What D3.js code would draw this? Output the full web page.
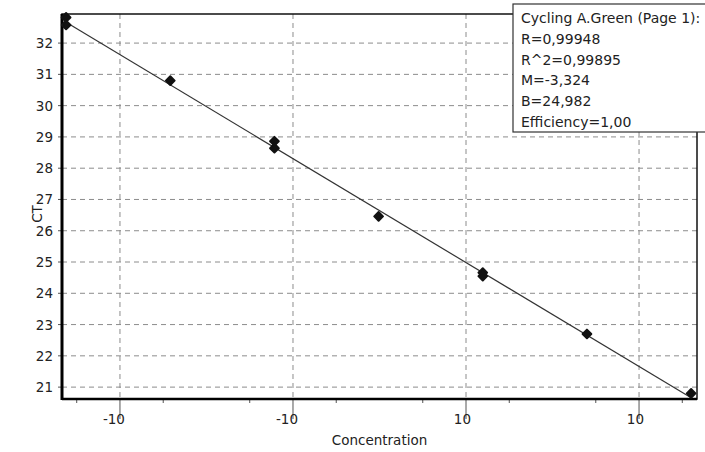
<!DOCTYPE html>
<html>
<head>
<meta charset="utf-8">
<style>
  body { margin: 0; background: #fff; font-family: "DejaVu Sans", sans-serif; }
  .grid line { stroke: #8c8c8c; stroke-dasharray: 5,4; stroke-width: 1; }
  text { fill: #222; font-size: 13.5px; }
  .legend text { font-size: 14px; }
</style>
<script src="https://d3js.org/d3.v7.min.js"></script>
</head>
<body>
<script>
// 4-fold dilution series, each measured in duplicate
const concentrations = [0.0048828, 0.0048828, 0.0195313, 0.078125, 0.078125, 0.3125, 1.25, 1.25, 5, 20];
const ctValues = [32.82, 32.58, 30.8, 28.86, 28.64, 26.46, 24.66, 24.55, 22.7, 20.8];
const yTicks = [21, 22, 23, 24, 25, 26, 27, 28, 29, 30, 31, 32];
const xTicks = [0.01, 0.1, 1, 10];
const xTickLabels = ["-10", "-10", "10", "10"];
const fit = { slope: -3.324, intercept: 24.982 };
const legendLines = ["Cycling A.Green (Page 1):", "R=0,99948", "R^2=0,99895", "M=-3,324", "B=24,982", "Efficiency=1,00"];

const width = 705, height = 452;
const m = { left: 62, right: 697, top: 14, bottom: 399 };

const svg = d3.select('body').append('svg')
    .attr('width', width).attr('height', height);

const x = d3.scaleLog()
    .domain([Math.pow(10, -2.335), Math.pow(10, 1.335)])
    .range([m.left, m.right]);
const y = d3.scaleLinear()
    .domain([20.62, 32.93])
    .range([m.bottom, m.top]);

// grid
const grid = svg.append('g').attr('class', 'grid');
grid.selectAll('line.h').data(yTicks).enter().append('line')
    .attr('x1', m.left).attr('x2', m.right)
    .attr('y1', d => y(d)).attr('y2', d => y(d));
grid.selectAll('line.v').data(xTicks).enter().append('line')
    .attr('y1', m.top).attr('y2', m.bottom)
    .attr('x1', d => x(d)).attr('x2', d => x(d));

// minor x ticks at quarter decades
const minor = [];
xTicks.forEach(t => [-0.25, 0.25].forEach(o => minor.push(t * Math.pow(10, o))));
svg.selectAll('line.minor').data(minor.filter(d => x(d) > m.left && x(d) < m.right)).enter().append('line')
    .attr('x1', d => x(d)).attr('x2', d => x(d))
    .attr('y1', m.bottom).attr('y2', m.bottom + 4)
    .attr('stroke', '#555');

// major x ticks pass through the labels
svg.selectAll('line.major').data(xTicks).enter().append('line')
    .attr('x1', d => x(d)).attr('x2', d => x(d))
    .attr('y1', m.bottom).attr('y2', m.bottom + 20)
    .attr('stroke', '#555');

svg.selectAll('text.xt').data(xTicks).enter().append('text')
    .attr('x', d => x(d) + 5).attr('y', m.bottom + 25)
    .attr('text-anchor', 'end')
    .text((d, i) => xTickLabels[i]);

// y ticks + labels
svg.selectAll('line.yt').data(yTicks).enter().append('line')
    .attr('x1', m.left - 4).attr('x2', m.left)
    .attr('y1', d => y(d)).attr('y2', d => y(d))
    .attr('stroke', '#555');
svg.selectAll('text.yl').data(yTicks).enter().append('text')
    .attr('x', m.left - 9).attr('y', d => y(d) + 5)
    .attr('text-anchor', 'end')
    .text(d => d);

// frame
svg.append('rect')
    .attr('x', m.left).attr('y', m.top).attr('width', m.right - m.left).attr('height', m.bottom - m.top)
    .attr('fill', 'none').attr('stroke', '#111').attr('stroke-width', 1.5);
svg.append('line').attr('x1', m.left).attr('x2', m.left).attr('y1', m.top).attr('y2', m.bottom + 1)
    .attr('stroke', '#000').attr('stroke-width', 3);
svg.append('line').attr('x1', m.left).attr('x2', m.right).attr('y1', m.bottom).attr('y2', m.bottom)
    .attr('stroke', '#000').attr('stroke-width', 2.5);

// regression line over the data range
const cMin = d3.min(concentrations), cMax = d3.max(concentrations);
const line = d3.line()
    .x(d => x(d))
    .y(d => y(fit.intercept + fit.slope * Math.log10(d)));
svg.append('path')
    .datum([cMin, cMax])
    .attr('d', line)
    .attr('fill', 'none').attr('stroke', '#333').attr('stroke-width', 1.2);

// points: rounded diamonds
svg.selectAll('path.pt').data(concentrations).enter().append('path')
    .attr('transform', (d, i) => `translate(${x(d)},${y(ctValues[i])}) rotate(45)`)
    .attr('d', d3.symbol().type(d3.symbolSquare).size(38))
    .attr('fill', '#111').attr('stroke', '#111').attr('stroke-width', 2)
    .attr('stroke-linejoin', 'round');

// axis titles
svg.append('text')
    .attr('x', (m.left + m.right) / 2).attr('y', 445)
    .attr('text-anchor', 'middle')
    .text('Concentration');
svg.append('text')
    .attr('transform', `translate(42,214) rotate(-90)`)
    .attr('text-anchor', 'middle')
    .text('CT');

// legend box
const lg = svg.append('g').attr('class', 'legend');
lg.append('rect')
    .attr('x', 513).attr('y', 4).attr('width', 200).attr('height', 128)
    .attr('fill', '#fff').attr('stroke', '#333').attr('stroke-width', 1.2);
lg.selectAll('text').data(legendLines).enter().append('text')
    .attr('x', 521).attr('y', (d, i) => 23 + i * 20.8)
    .text(d => d);
</script>
</body>
</html>
